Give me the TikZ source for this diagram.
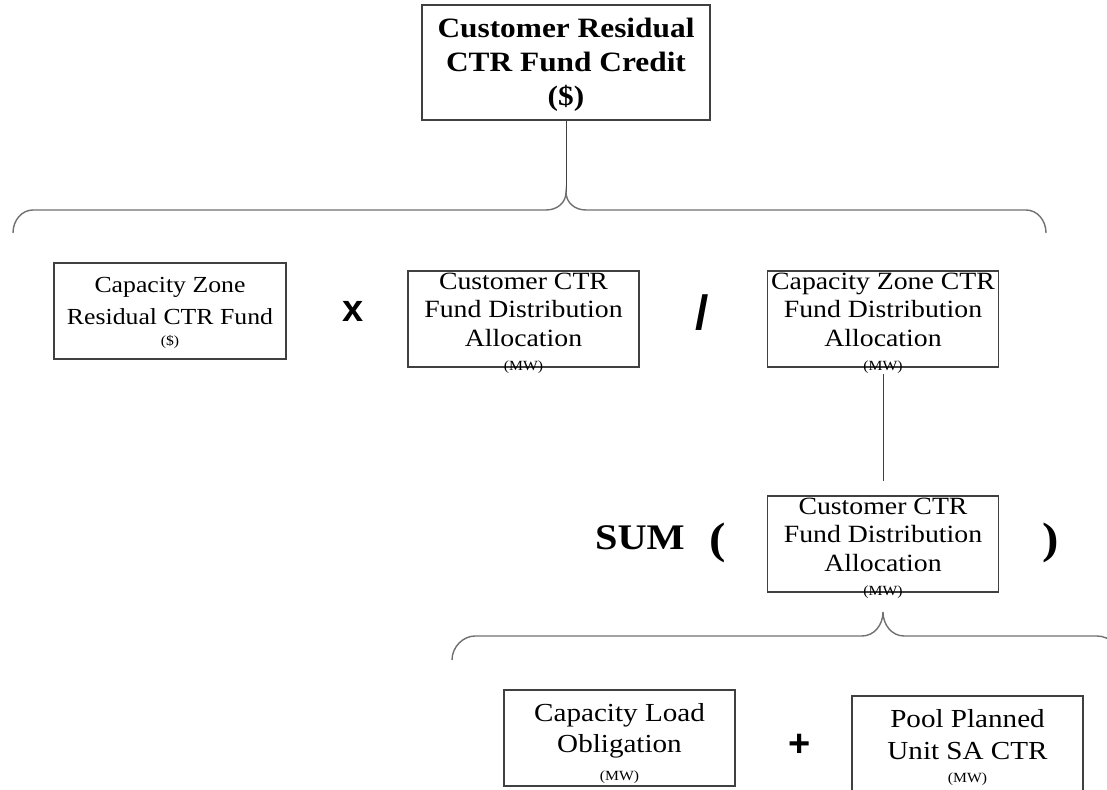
\documentclass[tikz,border=0pt]{standalone}
\usepackage{fontspec}
\setmainfont{Liberation Serif}[FakeStretch=1.12]
\setsansfont{Liberation Sans}
\usetikzlibrary{positioning,calc}
\definecolor{boxline}{HTML}{404040}
\definecolor{braceline}{HTML}{707070}

\begin{document}
\begin{tikzpicture}[x=0.5pt,y=-0.5pt,
    box/.style={draw=boxline,line width=0.55pt,inner sep=0pt,minimum width=115.5pt,minimum height=48pt},
    boxtext/.style={anchor=north,inner sep=0pt,align=center,font=\fontsize{12.4}{14.2}\selectfont},
    unit/.style={anchor=base,inner sep=0pt,font=\fontsize{7}{8}\selectfont},
    oper/.style={inner sep=0pt,font=\fontsize{19}{20}\selectfont\sffamily\bfseries},
    brace/.style={draw=braceline,line width=0.7pt},
    conn/.style={draw=boxline,line width=0.5pt}]
  \useasboundingbox (0,0) rectangle (1107,790);
  \clip (0,0) rectangle (1107,790);

  % result box
  \node[box,minimum width=144pt,minimum height=57.5pt] (res) at (566,62.5) {};
  \node[boxtext,below=6.5pt of res.north,font=\fontsize{14}{17}\selectfont\bfseries] (restxt)
    {Customer Residual\\CTR Fund Credit\\(\$)};

  % upper brace
  \coordinate (uptip) at (566,192);
  \draw[conn] (res) -- (uptip);
  \draw[brace] (13,233) .. controls (13,220) and (22,210) .. (33,210) -- (546,210)
    .. controls (557,210) and (566,203) .. (uptip)
    .. controls (566,203) and (575,210) .. (586,210) -- (1026,210)
    .. controls (1037,210) and (1046,220) .. (1046,233);

  % first row
  \node[box,minimum width=116pt] (zfund) at (170,311) {};
  \node[boxtext,below=7pt of zfund.north,font=\fontsize{11.5}{16}\selectfont] {Capacity Zone\\Residual CTR Fund};
  \node[unit] (zfundu) at ($(zfund.south)+(0,-14)$) {(\$)};

  \node[oper] (times) at (353,311) {x};

  \node[box] (custalloc) at (523.5,319) {};
  \node[boxtext,below=1pt of custalloc.north] {Customer CTR\\Fund Distribution\\Allocation};
  \node[unit] (custallocu) at ($(custalloc.south)+(0,3)$) {(MW)};

  \node[oper,font=\fontsize{24}{24}\selectfont\sffamily\bfseries] (divide) at (702,313) {/};

  \node[box] (zonealloc) at (883,319) {};
  \node[boxtext,below=1pt of zonealloc.north] {Capacity Zone CTR\\Fund Distribution\\Allocation};
  \node[unit] (zoneallocu) at ($(zonealloc.south)+(0,3)$) {(MW)};

  % sum row
  \node[box] (sumalloc) at (883,544) {};
  \node[boxtext,below=1pt of sumalloc.north] {Customer CTR\\Fund Distribution\\Allocation};
  \node[unit] (sumallocu) at ($(sumalloc.south)+(0,3)$) {(MW)};
  \draw[conn,shorten >=7pt] (zoneallocu) -- (sumalloc);

  \node[font=\fontsize{18}{18}\selectfont\bfseries] (sumlbl) at (640,538) {SUM};
  \node[font=\fontsize{22}{22}\selectfont\bfseries] (lpar) at (718,543) {(};
  \node[font=\fontsize{22}{22}\selectfont\bfseries] (rpar) at (1051,543) {)};

  % lower brace
  \coordinate (lowtip) at (883,612);
  \draw[brace] (452,660) .. controls (452,647) and (463,636) .. (475,636) -- (862,636)
    .. controls (874,636) and (883,625) .. (lowtip)
    .. controls (883,625) and (892,636) .. (904,636) -- (1097,636)
    .. controls (1110,636) and (1120,647) .. (1120,660);

  % bottom row
  \node[box] (loadobl) at (619.5,738) {};
  \node[boxtext,below=7pt of loadobl.north,font=\fontsize{13}{15.5}\selectfont] {Capacity Load\\Obligation};
  \node[unit] (loadoblu) at ($(loadobl.south)+(0,-6)$) {(MW)};

  \node[oper] (plus) at (800,745) {+};

  \node[box] (poolsa) at (967.5,744) {};
  \node[boxtext,below=7pt of poolsa.north,font=\fontsize{13}{16}\selectfont] {Pool Planned\\Unit SA CTR};
  \node[unit] (poolsau) at ($(poolsa.south)+(0,-10)$) {(MW)};
\end{tikzpicture}
\end{document}
